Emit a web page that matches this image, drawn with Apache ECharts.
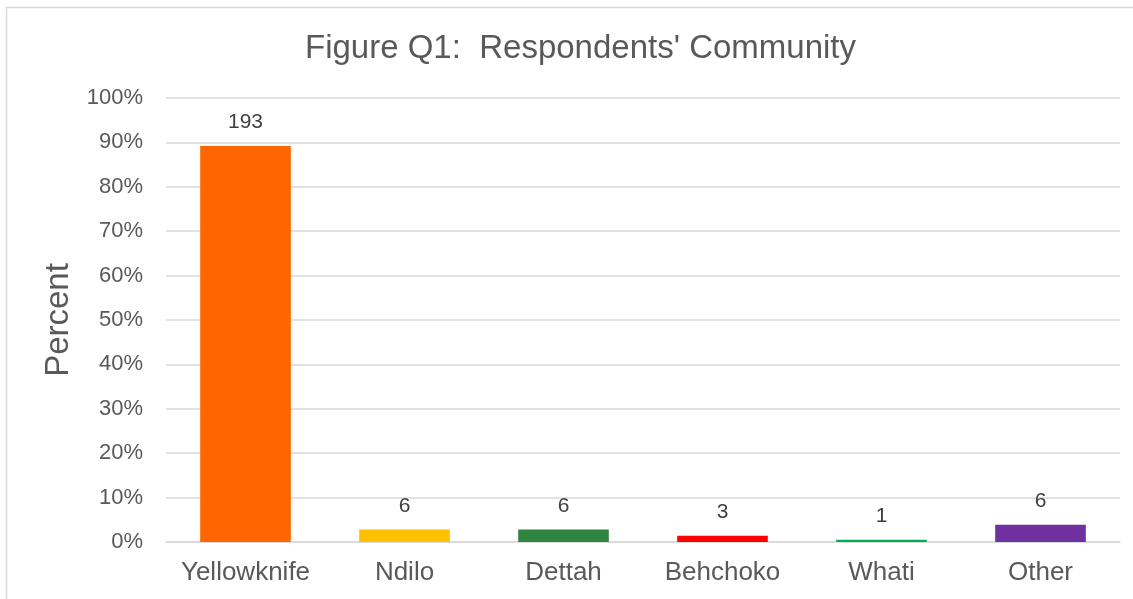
<!DOCTYPE html>
<html>
<head>
<meta charset="utf-8">
<title>Figure Q1: Respondents' Community</title>
<script src="https://cdn.jsdelivr.net/npm/echarts@6/dist/echarts.min.js"></script>
<style>
  html, body { margin: 0; padding: 0; background: #ffffff; }
  #chart { width: 1133px; height: 599px; }
</style>
</head>
<body>
<div id="chart"></div>
<script>
// Communities of respondents
const communities = ['Yellowknife', 'Ndilo', 'Dettah', 'Behchoko', 'Whati', 'Other'];
// Share of respondents, percent
const percentValues = [89.2, 2.8, 2.8, 1.4, 0.5, 3.9];
// Number of respondents, shown above each bar
const respondentCounts = [193, 6, 6, 3, 1, 6];
// One colour per community
const barColors = ['#FF6600', '#FFC000', '#31843F', '#FF0000', '#00B050', '#7030A0'];
// Value axis ticks
const yTicks = [0, 10, 20, 30, 40, 50, 60, 70, 80, 90, 100];

const FONT = '"Liberation Sans", Arial, sans-serif';
const TEXT = '#595959';

const chart = echarts.init(document.getElementById('chart'), null, { renderer: 'canvas' });

chart.setOption({
  backgroundColor: '#ffffff',
  animation: false,
  title: {
    text: "Figure Q1:  Respondents' Community",
    left: 300,
    top: 27,
    textStyle: { fontFamily: FONT, fontSize: 33, fontWeight: 'normal', color: TEXT }
  },
  graphic: [{
    type: 'rect',
    shape: { x: 6.5, y: 7.5, width: 1140, height: 600 },
    style: { fill: 'none', stroke: '#d9d9d9', lineWidth: 1.5 },
    silent: true
  }],
  grid: { left: 166, right: 13, top: 98, bottom: 57 },
  xAxis: {
    type: 'category',
    data: communities,
    axisLine: { show: true, lineStyle: { color: '#d9d9d9', width: 1.5 } },
    axisTick: { show: false },
    axisLabel: { interval: 0, fontFamily: FONT, fontSize: 26, color: TEXT, margin: 18 }
  },
  yAxis: {
    type: 'value',
    min: yTicks[0],
    max: yTicks[yTicks.length - 1],
    interval: yTicks[1] - yTicks[0],
    name: 'Percent',
    nameLocation: 'middle',
    nameGap: 88,
    nameTextStyle: { fontFamily: FONT, fontSize: 33, color: TEXT },
    axisLine: { show: false },
    axisTick: { show: false },
    axisLabel: {
      fontFamily: FONT, fontSize: 22, color: TEXT, margin: 23,
      formatter: v => v + '%'
    },
    splitLine: { lineStyle: { color: '#d9d9d9', width: 1.5 } }
  },
  series: [{
    type: 'bar',
    barCategoryGap: '43%',
    data: percentValues.map((v, i) => ({
      value: v,
      itemStyle: { color: barColors[i] },
      label: { formatter: String(respondentCounts[i]) }
    })),
    label: {
      show: true,
      position: 'top',
      distance: 13,
      fontFamily: FONT,
      fontSize: 21,
      color: '#404040'
    }
  }]
});
</script>
</body>
</html>
